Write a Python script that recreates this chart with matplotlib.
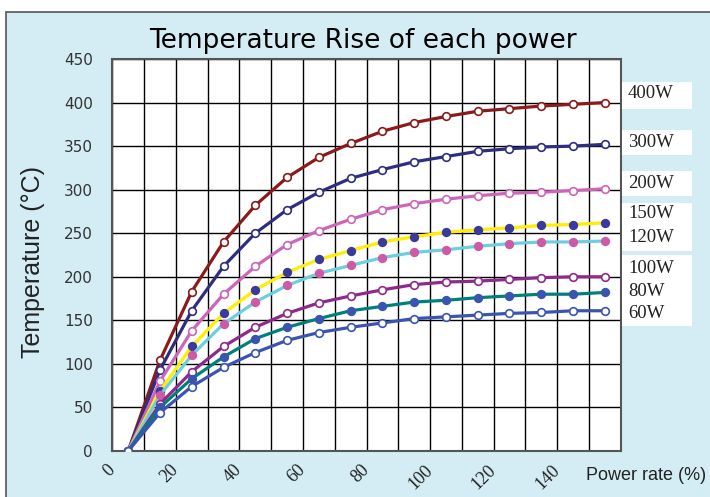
import matplotlib
matplotlib.use("Agg")
from matplotlib import pyplot as plt
from matplotlib.patches import Rectangle

# power rate (%)
x = [5, 15, 25, 35, 45, 55, 65, 75, 85, 95, 105, 115, 125, 135, 145, 155]

t400 = [0, 104, 183, 240, 282, 314, 337, 353, 367, 377, 384, 390, 393, 396, 398, 400]
t300 = [0, 93, 161, 212, 250, 277, 297, 313, 323, 332, 338, 344, 347, 349, 350, 352]
t200 = [0, 80, 138, 180, 212, 237, 253, 266, 277, 284, 289, 293, 296, 297, 299, 301]
t150 = [0, 69, 120, 158, 185, 205, 220, 230, 240, 246, 251, 254, 256, 259, 260, 262]
t120 = [0, 64, 110, 146, 171, 190, 204, 213, 222, 228, 231, 235, 238, 240, 240, 241]
t100 = [0, 54, 91, 120, 142, 158, 170, 178, 185, 191, 194, 195, 197, 199, 200, 200]
t80 = [0, 50, 83, 108, 129, 142, 152, 161, 166, 171, 173, 176, 178, 180, 180, 182]
t60 = [0, 44, 74, 96, 113, 127, 136, 142, 147, 152, 154, 156, 158, 159, 161, 161]

labels = ["400W", "300W", "200W", "150W", "120W", "100W", "80W", "60W"]
series = [t400, t300, t200, t150, t120, t100, t80, t60]
line_colors = ["#8b1a1a", "#2e2e80", "#cc66b8", "#ffee00", "#6ccfe0", "#8e2a8c", "#00807a", "#3a55b0"]
marker_faces = ["white", "white", "white", "#3a3a9a", "#cc5aa6", "white", "#3a55b0", "white"]

bg = "#d4edf4"

fig = plt.figure(figsize=(7.1, 4.97), dpi=100, facecolor="white")
W, H = 710, 497

# light blue frame behind everything
fig.patches.append(Rectangle((6 / W, -0.1), 1.2, 1 - 12 / H + 0.1, transform=fig.transFigure,
                             facecolor=bg, edgecolor="#555555", linewidth=1.2, zorder=-10))

ax = fig.add_axes([112.3 / W, 1 - 451 / H, (620.7 - 112.3) / W, (451 - 59) / H])
ax.set_facecolor("white")

for ys, c, mf in zip(series, line_colors, marker_faces):
    ax.plot(x, ys, color=c, linewidth=2.3, marker="o", markersize=5.5,
            markerfacecolor=mf, markeredgecolor=c if mf == "white" else mf,
            markeredgewidth=1.2, zorder=3)

ax.set_xlim(0, 160)
ax.set_ylim(0, 450)
ax.set_xticks(range(0, 160, 20))
ax.set_xticks(range(0, 161, 10), minor=True)
ax.set_yticks(range(0, 451, 50))
ax.grid(True, which="both", color="black", linewidth=1.0, zorder=1)
ax.set_axisbelow(True)
ax.tick_params(which="both", length=0)
ax.tick_params(axis="y", pad=14, labelsize=11, labelcolor="#333333")
ax.tick_params(axis="x", pad=12)
for lab in ax.get_yticklabels():
    lab.set_family("DejaVu Sans")
for lab in ax.get_xticklabels():
    lab.set_family("Liberation Serif")
    lab.set_fontsize(13)
    lab.set_rotation(45)
    lab.set_ha("right")
    lab.set_va("center")
    lab.set_rotation_mode("anchor")
    lab.set_color("#222222")

for s in ax.spines.values():
    s.set_color("#555555")
    s.set_linewidth(1.5)

fig.text(363 / W, 1 - 41 / H, "Temperature Rise of each power", ha="center", va="center",
         fontsize=19, family="DejaVu Sans", color="black")
fig.text(33 / W, 1 - 262 / H, "Temperature (°C)", rotation=90, ha="center", va="center",
         fontsize=18, family="Liberation Sans", color="#222222")
fig.text(586 / W, 1 - 476 / H, "Power rate (%)", ha="left", va="center",
         fontsize=13, family="Liberation Sans", color="#222222")

# white label boxes on the right
boxes = [(81.7, 109), (130, 155), (170.7, 195.7), (203, 250.7), (255, 325.7)]
for top, bot in boxes:
    fig.patches.append(Rectangle((622 / W, 1 - bot / H), 70 / W, (bot - top) / H,
                                 transform=fig.transFigure, facecolor="white",
                                 edgecolor="none", zorder=1))

label_y = [93.3, 142.3, 183.3, 214, 237.3, 268.3, 291, 313.3]
for lab, ly in zip(labels, label_y):
    fig.text(628 / W, 1 - ly / H, lab, ha="left", va="center", fontsize=13.5,
             family="Liberation Serif", color="#222222", zorder=2)

fig.savefig("out.png", dpi=100, facecolor="white")
